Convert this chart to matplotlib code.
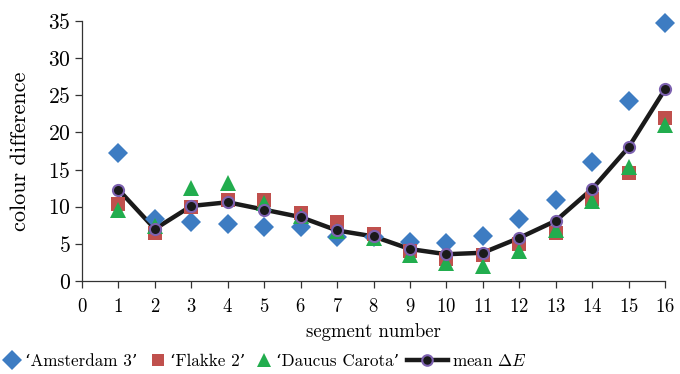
import numpy as np
import matplotlib
matplotlib.use("Agg")
import matplotlib.pyplot as plt

plt.rcParams['font.family'] = ['cmr10', 'DejaVu Serif']
plt.rcParams['mathtext.fontset'] = 'cm'
plt.rcParams['axes.formatter.use_mathtext'] = True

segments = np.arange(1, 17)
amsterdam = [17.2, 8.3, 8.0, 7.7, 7.3, 7.2, 5.9, 5.9, 5.2, 5.1, 6.1, 8.4, 10.9, 16.0, 24.2, 34.7]
flakke = [10.3, 6.4, 9.9, 10.9, 10.9, 9.1, 7.9, 6.3, 4.0, 3.0, 3.5, 5.0, 6.4, 11.0, 14.5, 22.0]
daucus = [9.5, 7.4, 12.5, 13.2, 10.5, 8.7, 6.7, 5.8, 3.5, 2.4, 2.0, 4.0, 6.8, 10.8, 15.3, 21.0]
mean_de = [12.3, 7.0, 10.1, 10.6, 9.6, 8.6, 6.8, 6.0, 4.3, 3.6, 3.8, 5.8, 8.1, 12.4, 18.0, 25.8]

blue = '#3d7cc2'
red = '#c0504d'
green = '#22ad4e'
purple = '#7d62b0'
dark = '#1a1a1a'

fig = plt.figure(figsize=(6.8, 3.74), dpi=100)
ax = fig.add_axes([0.1206, 0.2487, 0.8574, 0.6952])

ax.plot(segments, mean_de, color=dark, lw=3.2, solid_joinstyle='round',
        solid_capstyle='round', zorder=2)
h1, = ax.plot(segments, amsterdam, 'D', color=blue, ms=10.5, mew=0, zorder=3,
              label='\u2018Amsterdam 3\u2019')
h2, = ax.plot(segments, flakke, 's', color=red, ms=9.5, mew=0, zorder=4,
              label='\u2018Flakke 2\u2019')
h3, = ax.plot(segments, daucus, '^', color=green, ms=11, mew=0, zorder=5,
              label='\u2018Daucus Carota\u2019')
ax.plot(segments, mean_de, 'o', color=dark, mec=purple, mew=1.5, ms=8,
        zorder=6)
h4, = ax.plot([], [], '-o', color=dark, lw=3.2, mfc=dark, mec=purple,
              mew=1.5, ms=8, label='mean $\\Delta E$')

ax.set_xlim(0, 16)
ax.set_ylim(0, 35)
ax.set_xticks(range(0, 17))
ax.set_yticks(range(0, 36, 5))
ax.tick_params(color='#333333', length=5, width=0.9)
ax.tick_params(axis='x', labelsize=13.5, pad=7)
ax.tick_params(axis='y', labelsize=15.5, pad=3)
for s in ['top', 'right']:
    ax.spines[s].set_visible(False)
for s in ['left', 'bottom']:
    ax.spines[s].set_color('#333333')
    ax.spines[s].set_linewidth(0.9)
for ln in ax.lines:
    ln.set_clip_on(False)

ax.set_xlabel('segment number', fontsize=13.5, labelpad=5)
ax.set_ylabel('colour difference', fontsize=16, labelpad=13)

# one small legend per entry so each sits where the reference has it
entries = [(h1, 0.006, 0.95), (h2, 0.220, 0.95), (h3, 0.376, 0.95), (h4, 0.598, 2.4)]
for h, x0, hl in entries:
    leg = fig.legend([h], [h.get_label()], loc='center left',
                     bbox_to_anchor=(x0, 0.035), frameon=False, fontsize=12.3,
                     handlelength=hl, handletextpad=0.25, markerscale=0.95,
                     borderaxespad=0, borderpad=0)

fig.savefig('out.png', dpi=100)
